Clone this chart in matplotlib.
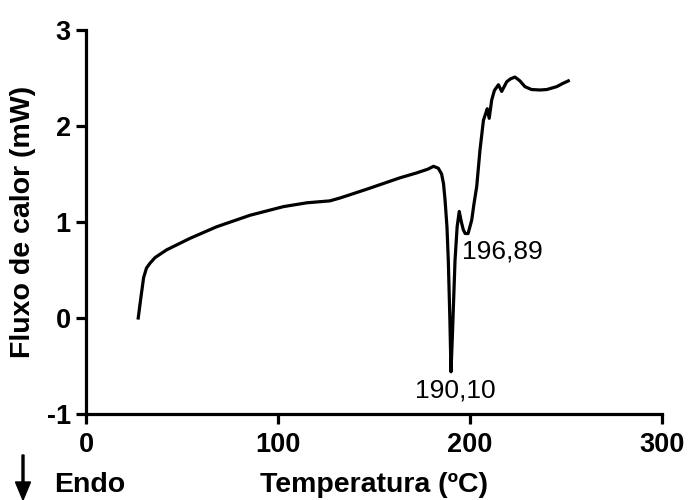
import matplotlib
matplotlib.use("Agg")
import matplotlib.pyplot as plt
from matplotlib.patches import FancyArrow

temperature = [27.2, 28.5, 30.0, 31.5, 33.3, 36.0, 42.0, 54.2, 68.0, 85.4, 102.8, 115.0, 127.0,
               132.3, 146.0, 163.5, 172.0, 178.0, 181.0, 183.5, 185.2, 186.2, 187.0, 188.0,
               188.7, 189.5, 190.1, 190.8, 191.5, 192.2, 193.3, 194.4, 195.5, 196.5, 197.5,
               199.0, 200.9, 202.0, 203.5, 205.2, 207.0, 208.0, 209.0, 210.0, 211.3, 212.7,
               214.8, 216.5, 219.1, 221.0, 223.4, 226.0, 228.6, 232.0, 236.5, 240.0, 245.2,
               248.0, 251.2]
heat_flow = [0.0, 0.2, 0.42, 0.52, 0.57, 0.63, 0.71, 0.83, 0.95, 1.07, 1.16, 1.20, 1.22,
             1.25, 1.34, 1.46, 1.51, 1.55, 1.58, 1.56, 1.50, 1.40, 1.23, 0.95,
             0.6, 0.0, -0.56, -0.2, 0.2, 0.6, 0.95, 1.11, 1.0, 0.92, 0.88,
             0.88, 1.02, 1.18, 1.37, 1.75, 2.06, 2.12, 2.18, 2.08, 2.27, 2.37,
             2.43, 2.36, 2.46, 2.49, 2.51, 2.47, 2.41, 2.38, 2.375, 2.38, 2.41,
             2.44, 2.47]

x_ticks = [0, 100, 200, 300]
y_ticks = [-1, 0, 1, 2, 3]
peak_labels = ["190,10", "196,89"]

plt.rcParams['font.family'] = ['Liberation Sans', 'DejaVu Sans']
plt.rcParams['axes.unicode_minus'] = False

W, H = 691, 500
fig = plt.figure(figsize=(W / 100, H / 100), dpi=100)
ax = fig.add_axes([86 / W, 1 - 414 / H, 576 / W, 384 / H])
ax.plot(temperature, heat_flow, color='black', lw=2.3, solid_joinstyle='round')
ax.set_xlim(0, 300)
ax.set_ylim(-1, 3)
ax.set_xticks(x_ticks)
ax.set_yticks(y_ticks)
for s in ['top', 'right']:
    ax.spines[s].set_visible(False)
for s in ['left', 'bottom']:
    ax.spines[s].set_linewidth(2.3)
ax.tick_params(width=2.3, length=7, labelsize=19.5)
ax.tick_params(axis='x', pad=6)
ax.tick_params(axis='y', pad=4)
for lab in ax.get_xticklabels() + ax.get_yticklabels():
    lab.set_fontweight('bold')

fig.text(374 / W, 1 - 492 / H, 'Temperatura (ºC)', fontsize=20.5, fontweight='bold',
         ha='center', va='baseline')
fig.text(23 / W, 1 - 222 / H, 'Fluxo de calor (mW)', fontsize=20.5, fontweight='bold',
         ha='center', va='center', rotation=90)

ax.text(192.2, -0.63, peak_labels[0], fontsize=19, ha='center', va='top')
ax.text(195.8, 0.82, peak_labels[1], fontsize=19, ha='left', va='top')

fig.text(54 / W, 1 - 492 / H, 'Endo', fontsize=20.5, fontweight='bold', ha='left', va='baseline')
fig.patches.append(FancyArrow(23 / W, 1 - 455 / H, 0, -45 / H, width=2 / W,
                   head_width=15 / W, head_length=18 / H, length_includes_head=True,
                   color='black', transform=fig.transFigure, figure=fig))

fig.savefig('out.png', dpi=100)
